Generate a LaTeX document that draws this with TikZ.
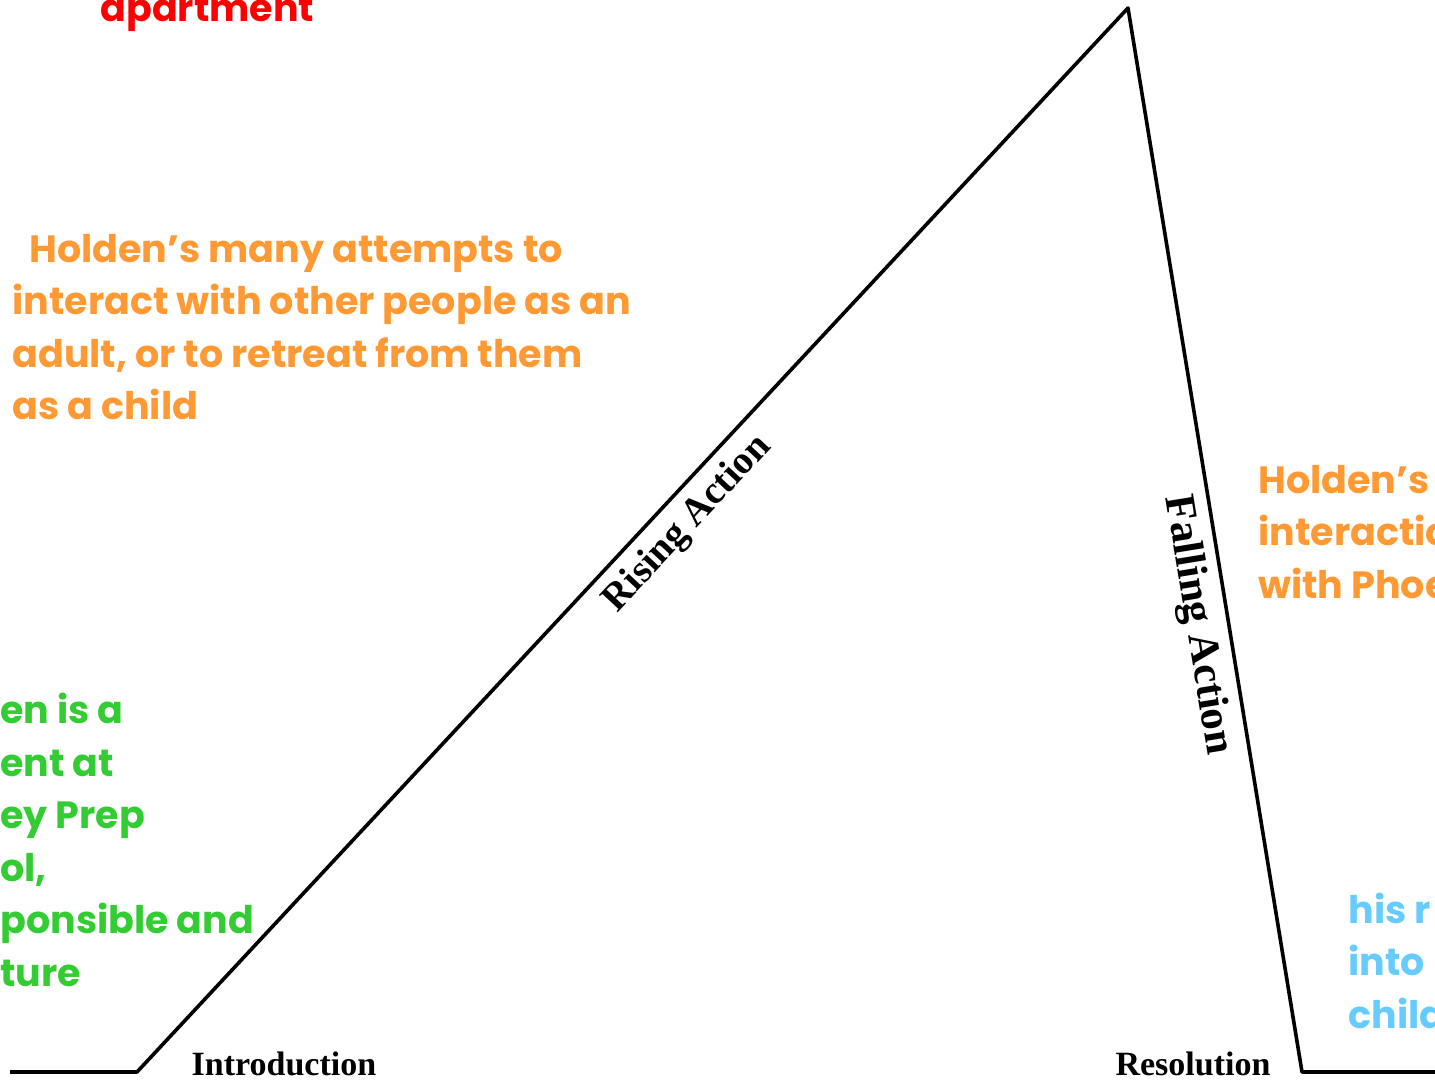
\documentclass[tikz,border=0pt]{standalone}
\usepackage{fontspec}
\newfontfamily\comicfont{Poppins}
\newfontfamily\etapafont{Liberation Serif}
\definecolor{notarojo}{RGB}{255,0,0}
\definecolor{notanaranja}{RGB}{255,153,51}
\definecolor{notaverde}{RGB}{51,204,51}
\definecolor{notaazul}{RGB}{102,204,255}

\begin{document}
\begin{tikzpicture}[x=0.5pt,y=-0.5pt]
\tikzstyle{nota}=[font=\comicfont\bfseries\fontsize{19}{26.25}\selectfont,align=left,anchor=base west,inner sep=0pt]
\tikzstyle{etapa}=[font=\etapafont\bfseries\fontsize{17}{18}\selectfont,inner sep=0pt]
\useasboundingbox (0,0) rectangle (1435,1080);
\clip (0,0) rectangle (1435,1080);

% la linea de la trama
\coordinate (inicio) at (10,1072);
\coordinate (base izq) at (137,1072);
\coordinate (climax) at (1128,8);
\coordinate (base der) at (1302,1072);
\coordinate (fin) at (1435,1072);
\draw[line width=1.8pt,line join=round] (inicio) -- (base izq) -- (climax) -- (base der) -- (fin);

% etapas
\node[etapa,anchor=base] (intro) at (284,1075) {Introduction};
\node[etapa,anchor=base] (resol) at (1193,1075) {Resolution};
\node[etapa,font=\etapafont\bfseries\fontsize{19.5}{20}\selectfont,rotate=47] (subida) at (688,524) {Rising Action};
\node[etapa,font=\etapafont\bfseries\fontsize{21.5}{22}\selectfont,rotate=-80.7] (bajada) at (1197,625) {Falling Action};

% notas (base = ultima linea)
\node[nota,text=notarojo] (n1) at (100,22) {apartment};
\node[nota,text=notanaranja] (n2) at (12,420) {\hspace*{0.45em}Holden’s many attempts to\\interact with other people as an\\adult, or to retreat from them\\as a child};
\node[nota,text=notanaranja] (n3) at (1258,598) {Holden’s\\interactio\\with Phoe};
\node[nota,text=notaverde] (n4) at (0,986) {en is a\\ent at\\ey Prep\\ol,\\ponsible and\\ture};
\node[nota,text=notaazul] (n5) at (1348,1028) {his r\\into\\child};
\end{tikzpicture}
\end{document}
